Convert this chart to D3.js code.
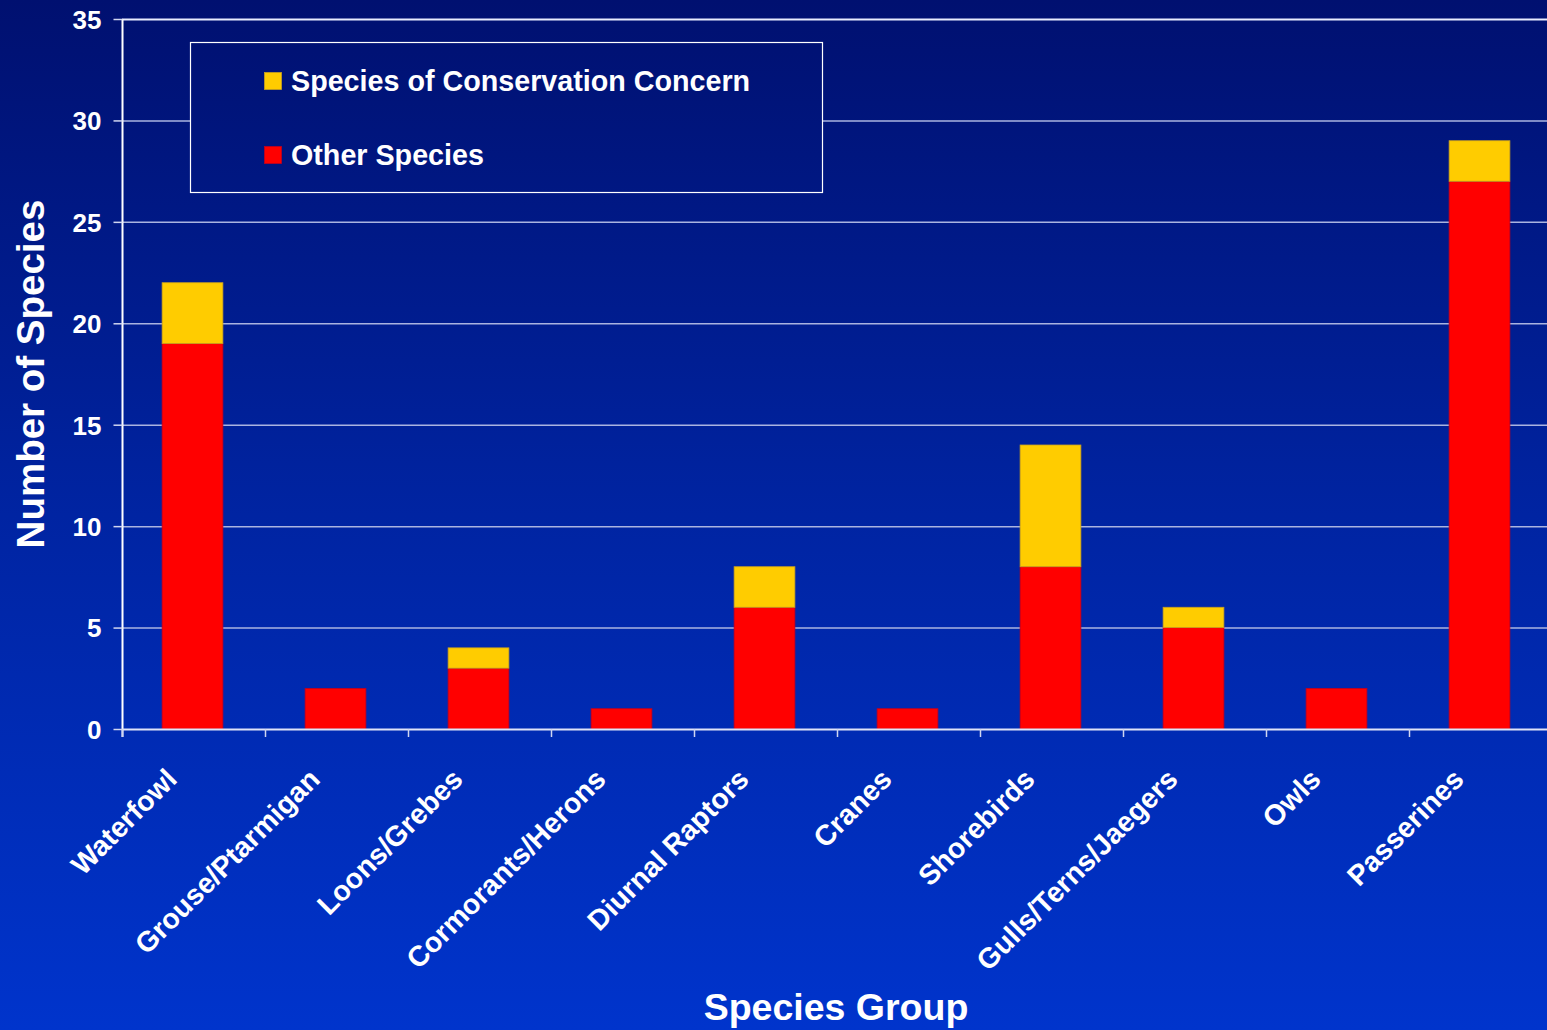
<!DOCTYPE html>
<html>
<head>
<meta charset="utf-8">
<script src="https://cdn.jsdelivr.net/npm/d3@7"></script>
<style>
  html, body { margin: 0; padding: 0; background: #0022a0; }
  svg { display: block; }
  text { font-family: "Liberation Sans", Arial, sans-serif; font-weight: bold; fill: #ffffff; }
</style>
</head>
<body>
<script>
const categories = ["Waterfowl", "Grouse/Ptarmigan", "Loons/Grebes", "Cormorants/Herons", "Diurnal Raptors", "Cranes", "Shorebirds", "Gulls/Terns/Jaegers", "Owls", "Passerines"];
const otherSpecies = [19, 2, 3, 1, 6, 1, 8, 5, 2, 27];
const concernSpecies = [3, 0, 1, 0, 2, 0, 6, 1, 0, 2];
const seriesNames = ["Species of Conservation Concern", "Other Species"];
const yTicks = [0, 5, 10, 15, 20, 25, 30, 35];

(function () {
const W = 1547, H = 1030;
const svg = d3.select("body").append("svg").attr("width", W).attr("height", H);

const defs = svg.append("defs");
const grad = defs.append("linearGradient").attr("id", "bg")
  .attr("gradientUnits", "userSpaceOnUse")
  .attr("x1", 0).attr("y1", 0).attr("x2", 0).attr("y2", H);
grad.append("stop").attr("offset", 0).attr("stop-color", "#001070");
grad.append("stop").attr("offset", 0.5).attr("stop-color", "#0024a2");
grad.append("stop").attr("offset", 1).attr("stop-color", "#0034cc");

svg.append("rect").attr("width", W).attr("height", H).attr("fill", "url(#bg)");

const pL = 122, pT = 19, pB = 729, pR = 122 + 143 * 10;
const x = d3.scaleBand().domain(categories).range([pL, pR]).padding(0);
const y = d3.scaleLinear().domain([0, 35]).range([pB, pT]);

// gridlines
svg.append("g").selectAll("line").data(yTicks.filter(d => d > 0)).join("line")
  .attr("x1", pL).attr("x2", W)
  .attr("y1", d => y(d) + 0.5).attr("y2", d => y(d) + 0.5)
  .attr("stroke", d => d === 35 ? "#e8ecff" : "#aab4e0")
  .attr("stroke-width", d => d === 35 ? 2 : 1.5);

// stacked data
const stackData = categories.map((c, i) => ({ cat: c, other: otherSpecies[i], concern: concernSpecies[i] }));
const stack = d3.stack().keys(["other", "concern"])(stackData);
const colors = { other: "#ff0000", concern: "#ffcc00" };
const strokes = { other: "#c00020", concern: "#c8a020" };
const bw = x.bandwidth() * 0.425;

svg.append("g").selectAll("g").data(stack).join("g")
  .attr("fill", d => colors[d.key])
  .attr("stroke", d => strokes[d.key])
  .attr("stroke-width", 0.8)
  .selectAll("rect").data(d => d.filter(p => p[1] > p[0])).join("rect")
  .attr("x", d => x(d.data.cat) + x.bandwidth() / 2 - bw / 2 - 1)
  .attr("width", bw)
  .attr("y", d => y(d[1]))
  .attr("height", d => y(d[0]) - y(d[1]));

// y axis
const yAxis = d3.axisLeft(y).tickValues(yTicks).tickSize(9).tickPadding(12);
const gy = svg.append("g").attr("transform", `translate(${pL + 0.5},0)`).call(yAxis);
gy.select(".domain").attr("stroke", "#ffffff").attr("stroke-width", 2).attr("d", `M0,${pT}V${pB + 8}`);
gy.selectAll(".tick line").attr("stroke", "#d0d6f0").attr("stroke-width", 1.5);
gy.selectAll(".tick text").attr("font-size", 26).attr("fill", "#fff")
  .attr("font-family", "'Liberation Sans', Arial, sans-serif").attr("font-weight", "bold").attr("dy", "0.36em");

// x axis
const xAxis = d3.axisBottom(x).tickSize(0).tickFormat("");
const gx = svg.append("g").attr("transform", `translate(0,${pB + 0.5})`).call(xAxis);
gx.select(".domain").attr("stroke", "#e0e4f8").attr("stroke-width", 2).attr("d", `M${pL},0H${W}`);
gx.selectAll(".tick").remove();
svg.append("g").selectAll("line").data(categories).join("line")
  .attr("x1", d => x(d) + 0.5).attr("x2", d => x(d) + 0.5)
  .attr("y1", pB).attr("y2", pB + 8)
  .attr("stroke", "#d0d6f0").attr("stroke-width", 1.5);

// category labels
svg.append("g").selectAll("text").data(categories).join("text")
  .attr("transform", d => `translate(${x(d) + x.bandwidth() / 2 - 15},${pB + 52}) rotate(-45)`)
  .attr("text-anchor", "end")
  .attr("font-size", 28.5)
  .text(d => d);

// axis titles
svg.append("text")
  .attr("transform", `translate(44,${(pT + pB) / 2}) rotate(-90)`)
  .attr("text-anchor", "middle").attr("font-size", 38.5)
  .text("Number of Species");
svg.append("text")
  .attr("x", 836).attr("y", 1020)
  .attr("text-anchor", "middle").attr("font-size", 37.5)
  .text("Species Group");

// legend
const lg = svg.append("g");
lg.append("rect").attr("x", 190.5).attr("y", 42.5).attr("width", 632).attr("height", 150)
  .attr("fill", "url(#bg)").attr("stroke", "#ffffff").attr("stroke-width", 1.2);
const legendItems = [
  { name: seriesNames[0], color: "#ffcc00", stroke: "#c8a020", yy: 72 },
  { name: seriesNames[1], color: "#ff0000", stroke: "#c00020", yy: 146 }
];
legendItems.forEach(it => {
  lg.append("rect").attr("x", 264.5).attr("y", it.yy + 0.5).attr("width", 17).attr("height", 17)
    .attr("fill", it.color).attr("stroke", it.stroke).attr("stroke-width", 0.8);
  lg.append("text").attr("x", 291).attr("y", it.yy + 19).attr("font-size", 28.7).text(it.name);
});
})();
</script>
</body>
</html>
